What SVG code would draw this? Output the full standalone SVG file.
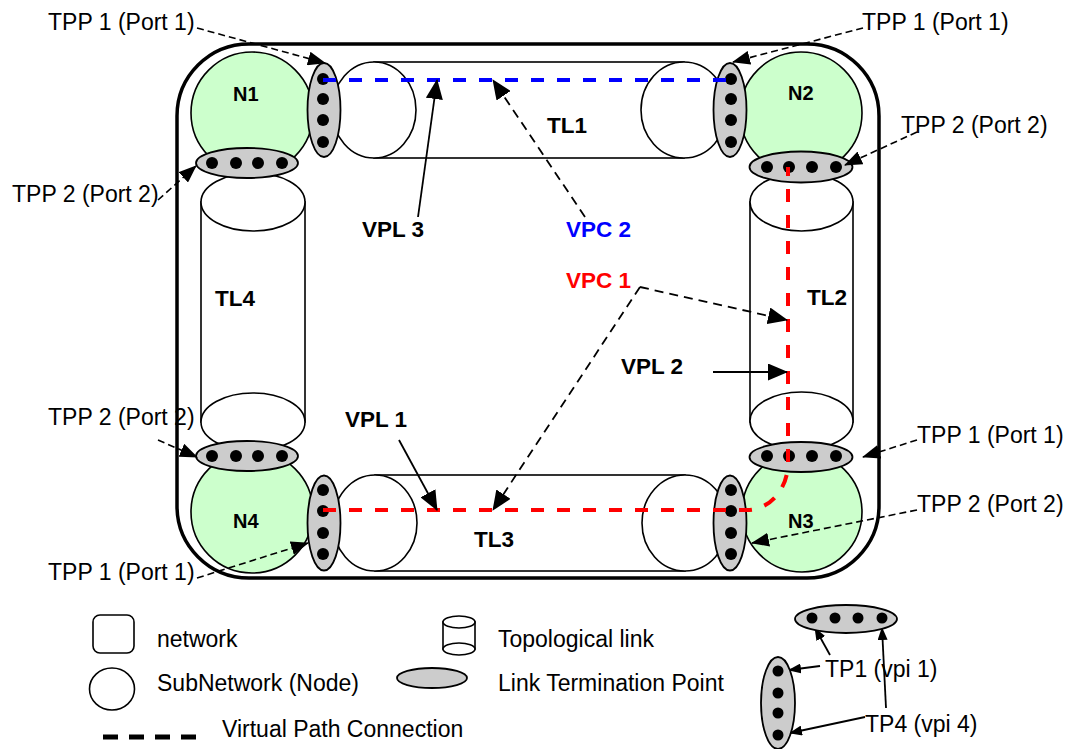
<svg xmlns="http://www.w3.org/2000/svg" width="1067" height="749" viewBox="0 0 1067 749">
<style>
text{font-family:"Liberation Sans",Arial,sans-serif;fill:#000}
.t{font-size:23px}
.b{font-size:22.5px;font-weight:bold}
.n{font-size:20px;font-weight:bold}
.cyl{fill:#fff;stroke:#000;stroke-width:1.6}
.node{fill:#ccffcc;stroke:#000;stroke-width:1.6}
.ltp{fill:#cccccc;stroke:#000;stroke-width:1.8}
.dot{fill:#000}
.tpp{fill:none;stroke:#000;stroke-width:1.6;stroke-dasharray:7 4}
.vpd{fill:none;stroke:#000;stroke-width:1.8;stroke-dasharray:9 6}
.sol{fill:none;stroke:#000;stroke-width:1.8}
</style>
<defs>
<marker id="ah" markerUnits="userSpaceOnUse" markerWidth="18" markerHeight="14" refX="17" refY="7" orient="auto"><path d="M0,0 L18,7 L0,14 z" fill="#000"/></marker>
<marker id="ah2" markerUnits="userSpaceOnUse" markerWidth="20" markerHeight="17" refX="19" refY="8.5" orient="auto"><path d="M0,0 L20,8.5 L0,17 z" fill="#000"/></marker>
<marker id="ah3" markerUnits="userSpaceOnUse" markerWidth="13" markerHeight="10" refX="12" refY="5" orient="auto"><path d="M0,0 L13,5 L0,10 z" fill="#000"/></marker>
</defs>

<g id="network">
<rect x="177" y="44" width="702" height="534" rx="72" ry="72" fill="none" stroke="#000" stroke-width="3.5"/>
</g>

<g id="TL1">
<rect x="374" y="62" width="310" height="96" class="cyl"/>
<ellipse cx="374" cy="110" rx="42" ry="48" class="cyl"/>
<ellipse cx="684" cy="110" rx="43" ry="48" class="cyl"/>
<text class="b" x="547" y="133">TL1</text>
</g>
<g id="TL3">
<rect x="375" y="475" width="310" height="96" class="cyl"/>
<ellipse cx="375" cy="523" rx="42" ry="48" class="cyl"/>
<ellipse cx="685" cy="523" rx="43" ry="48" class="cyl"/>
<text class="b" x="474" y="547">TL3</text>
</g>
<g id="TL4">
<rect x="201" y="202" width="104" height="220" class="cyl"/>
<ellipse cx="253" cy="202" rx="52" ry="29" class="cyl"/>
<ellipse cx="253" cy="422" rx="52" ry="29" class="cyl"/>
<text class="b" x="215" y="306">TL4</text>
</g>
<g id="TL2">
<rect x="750" y="202" width="103" height="220" class="cyl"/>
<ellipse cx="801.5" cy="202" rx="51.5" ry="29" class="cyl"/>
<ellipse cx="801.5" cy="421" rx="51.5" ry="29" class="cyl"/>
<text class="b" x="807" y="305">TL2</text>
</g>

<g id="N1">
<circle cx="252" cy="113" r="61" class="node"/>
<text class="n" x="233" y="101">N1</text>
</g>
<g id="N2">
<circle cx="801" cy="113" r="61" class="node"/>
<text class="n" x="788" y="100">N2</text>
</g>
<g id="N3">
<circle cx="802" cy="512" r="60" class="node"/>
<text class="n" x="788" y="528">N3</text>
</g>
<g id="N4">
<circle cx="252" cy="512" r="61" class="node"/>
<text class="n" x="233" y="528">N4</text>
</g>

<g id="LTP-N1-v">
<ellipse cx="324" cy="110" rx="16.5" ry="47" class="ltp"/>
<circle cx="323" cy="79" r="6" class="dot"/><circle cx="323" cy="99" r="6" class="dot"/><circle cx="323" cy="120" r="6" class="dot"/><circle cx="323" cy="142" r="6" class="dot"/>
</g>
<g id="LTP-N1-h">
<ellipse cx="247" cy="163" rx="51" ry="15" class="ltp"/>
<circle cx="212" cy="163" r="6" class="dot"/><circle cx="236" cy="163" r="6" class="dot"/><circle cx="258" cy="163" r="6" class="dot"/><circle cx="282" cy="163" r="6" class="dot"/>
</g>
<g id="LTP-N2-v">
<ellipse cx="730" cy="110" rx="16.5" ry="47" class="ltp"/>
<circle cx="731" cy="79" r="6" class="dot"/><circle cx="731" cy="99" r="6" class="dot"/><circle cx="731" cy="120" r="6" class="dot"/><circle cx="731" cy="142" r="6" class="dot"/>
</g>
<g id="LTP-N2-h">
<ellipse cx="801" cy="167" rx="51.5" ry="15.5" class="ltp"/>
<circle cx="767" cy="167" r="6" class="dot"/><circle cx="789" cy="167" r="6" class="dot"/><circle cx="812" cy="167" r="6" class="dot"/><circle cx="836" cy="167" r="6" class="dot"/>
</g>
<g id="LTP-N3-h">
<ellipse cx="801" cy="457" rx="51.5" ry="15" class="ltp"/>
<circle cx="767" cy="456" r="6" class="dot"/><circle cx="789" cy="456" r="6" class="dot"/><circle cx="812" cy="456" r="6" class="dot"/><circle cx="836" cy="456" r="6" class="dot"/>
</g>
<g id="LTP-N3-v">
<ellipse cx="730" cy="523" rx="16.5" ry="47.5" class="ltp"/>
<circle cx="731" cy="490" r="6" class="dot"/><circle cx="731" cy="511" r="6" class="dot"/><circle cx="731" cy="533" r="6" class="dot"/><circle cx="731" cy="554" r="6" class="dot"/>
</g>
<g id="LTP-N4-h">
<ellipse cx="247" cy="456" rx="51" ry="15" class="ltp"/>
<circle cx="212" cy="456" r="6" class="dot"/><circle cx="236" cy="456" r="6" class="dot"/><circle cx="258" cy="456" r="6" class="dot"/><circle cx="282" cy="456" r="6" class="dot"/>
</g>
<g id="LTP-N4-v">
<ellipse cx="324" cy="523" rx="16.5" ry="47.5" class="ltp"/>
<circle cx="323" cy="490" r="6" class="dot"/><circle cx="323" cy="511" r="6" class="dot"/><circle cx="323" cy="533" r="6" class="dot"/><circle cx="323" cy="554" r="6" class="dot"/>
</g>

<g id="connectors">
<path d="M323 80 H731" fill="none" stroke="#0000ff" stroke-width="4" stroke-dasharray="13 13"/>
<path d="M323 510 H747 A41 47 0 0 0 788 463 V167" fill="none" stroke="#ff0000" stroke-width="4" stroke-dasharray="13 13"/>

<path class="tpp" d="M197 28 L325 63" marker-end="url(#ah)"/>
<path class="tpp" d="M158 200 L196 166" marker-end="url(#ah)"/>
<path class="tpp" d="M863 28 L733 62" marker-end="url(#ah)"/>
<path class="tpp" d="M917 132 L845 165" marker-end="url(#ah)"/>
<path class="tpp" d="M158 440 L197 457" marker-end="url(#ah)"/>
<path class="tpp" d="M197 578 L308 543" marker-end="url(#ah)"/>
<path class="tpp" d="M917 440 L863 457" marker-end="url(#ah)"/>
<path class="tpp" d="M917 510 L752 543" marker-end="url(#ah)"/>

<path class="sol" d="M418 217 L437 80" marker-end="url(#ah2)"/>
<path class="vpd" d="M585 217 L493 80" marker-end="url(#ah2)"/>
<path class="vpd" d="M640 287 L787 320" marker-end="url(#ah2)"/>
<path class="vpd" d="M640 287 L493 510" marker-end="url(#ah2)"/>
<path class="sol" d="M713 372 L787 372" marker-end="url(#ah2)"/>
<path class="sol" d="M399 440 L437 510" marker-end="url(#ah2)"/>

<path class="sol" stroke-width="1.6" d="M830 655 L815 628" marker-end="url(#ah3)"/>
<path class="sol" stroke-width="1.6" d="M820 666 L789 670" marker-end="url(#ah3)"/>
<path class="sol" stroke-width="1.6" d="M886 708 L882 628" marker-end="url(#ah3)"/>
<path class="sol" stroke-width="1.6" d="M865 717 L790 733" marker-end="url(#ah3)"/>
</g>

<g id="labels">
<text class="t" x="48" y="30">TPP 1 (Port 1)</text>
<text class="t" x="12" y="202">TPP 2 (Port 2)</text>
<text class="t" x="862" y="30">TPP 1 (Port 1)</text>
<text class="t" x="901" y="133">TPP 2 (Port 2)</text>
<text class="t" x="48" y="425">TPP 2 (Port 2)</text>
<text class="t" x="48" y="580">TPP 1 (Port 1)</text>
<text class="t" x="917" y="443">TPP 1 (Port 1)</text>
<text class="t" x="917" y="512">TPP 2 (Port 2)</text>
<text class="b" x="362" y="237">VPL 3</text>
<text class="b" x="566" y="237" style="fill:#0000ff">VPC 2</text>
<text class="b" x="566" y="288" style="fill:#ff0000">VPC 1</text>
<text class="b" x="621" y="374">VPL 2</text>
<text class="b" x="345" y="427">VPL 1</text>
</g>

<g id="legend">
<rect x="93" y="615" width="41" height="38" rx="7" fill="#fff" stroke="#000" stroke-width="1.6"/>
<text class="t" x="157" y="647">network</text>
<ellipse cx="112" cy="689" rx="22.5" ry="21" fill="#fff" stroke="#000" stroke-width="1.6"/>
<text class="t" x="157" y="691">SubNetwork (Node)</text>
<path d="M103 737 H197" stroke="#000" stroke-width="5" stroke-dasharray="15 11"/>
<text class="t" x="222" y="737">Virtual Path Connection</text>
<rect x="443" y="622" width="32" height="27" fill="#fff" stroke="#000" stroke-width="1.6"/>
<ellipse cx="459" cy="622" rx="16" ry="6" fill="#fff" stroke="#000" stroke-width="1.6"/>
<ellipse cx="459" cy="649" rx="16" ry="6" fill="#fff" stroke="#000" stroke-width="1.6"/>
<text class="t" x="498" y="647">Topological link</text>
<ellipse cx="432" cy="678" rx="35" ry="10" class="ltp"/>
<text class="t" x="498" y="691">Link Termination Point</text>

<ellipse cx="846" cy="619" rx="51" ry="14" class="ltp"/>
<circle cx="812" cy="618" r="5.5" class="dot"/><circle cx="835" cy="618" r="5.5" class="dot"/><circle cx="858" cy="618" r="5.5" class="dot"/><circle cx="882" cy="618" r="5.5" class="dot"/>
<ellipse cx="778" cy="703" rx="17" ry="46" class="ltp"/>
<circle cx="778" cy="671" r="5.5" class="dot"/><circle cx="778" cy="693" r="5.5" class="dot"/><circle cx="778" cy="713" r="5.5" class="dot"/><circle cx="778" cy="735" r="5.5" class="dot"/>
<text class="t" x="825" y="677">TP1 (vpi 1)</text>
<text class="t" x="865" y="732">TP4 (vpi 4)</text>
</g>
</svg>
